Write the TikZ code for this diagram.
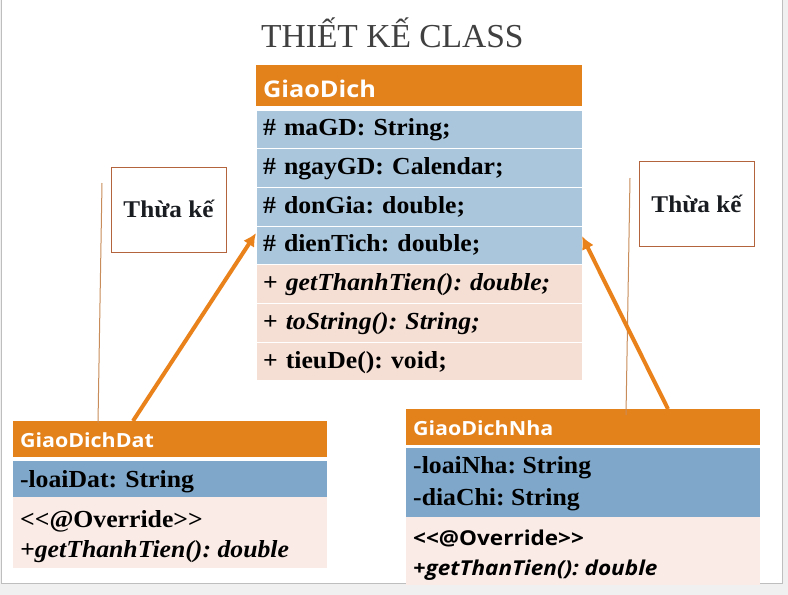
\documentclass[tikz,border=0pt]{standalone}
\usepackage{fontspec}
\setmainfont{Liberation Serif}
\newfontfamily\umlserif{Liberation Serif}[FakeStretch=1.05]
\newfontfamily\umlsans{Open Sans}[FakeStretch=1.1]
\usepackage{tikz}
\usetikzlibrary{arrows.meta,positioning}
\definecolor{umlorange}{RGB}{227,130,27}
\definecolor{arroworange}{RGB}{234,130,28}
\definecolor{mainblue}{RGB}{170,198,220}
\definecolor{mainpink}{RGB}{245,222,212}
\definecolor{clsblue}{RGB}{126,167,202}
\definecolor{clspink}{RGB}{250,235,230}
\definecolor{guidebrown}{RGB}{200,140,90}
\definecolor{noteline}{RGB}{180,100,60}
\definecolor{notetext}{RGB}{25,28,32}
\definecolor{titlegray}{RGB}{64,64,64}
\definecolor{slidegray}{RGB}{240,240,240}
\definecolor{slideline}{RGB}{190,190,190}
\frenchspacing

\begin{document}
\begin{tikzpicture}[x=1pt,y=-1pt,
  box/.style={rectangle,anchor=north west,outer sep=0pt,inner xsep=7pt,inner ysep=0pt,align=left},
  head/.style={box,fill=umlorange,text=white},
  mainhead/.style={head,text width=312pt,minimum height=41pt,text height=23pt,text depth=0pt,
    font=\umlsans\bfseries\fontsize{23}{26}\selectfont},
  classhead/.style={head,minimum height=36pt,text height=17pt,text depth=0.5pt,
    font=\umlsans\bfseries\fontsize{19.5}{22}\selectfont},
  row/.style={box,draw=white,line width=1pt,text width=312pt,minimum height=38.7pt,
    text height=17.5pt,text depth=4.5pt,font=\umlserif\bfseries\fontsize{24.5}{28}\selectfont},
  attr/.style={row,fill=mainblue},
  oper/.style={row,fill=mainpink},
  txt/.style={inner sep=0pt,anchor=base west,font=\umlserif\bfseries\fontsize{24.5}{28}\selectfont},
  sanstxt/.style={txt,font=\umlsans\bfseries\fontsize{20.5}{24}\selectfont},
  note/.style={draw=noteline,line width=0.8pt,minimum width=115pt,minimum height=85pt,
    text height=16pt,text depth=0pt,text=notetext,font=\umlserif\bfseries\fontsize{24}{28}\selectfont},
  guide/.style={draw=guidebrown,line width=1pt},
  inhArrow/.style={draw=arroworange,line width=4pt,-{Latex[length=13pt,width=13pt]}}]
\useasboundingbox (0,0) rectangle (788,595);
\fill[slidegray] (0,0) rectangle (788,595);
\draw[fill=white,draw=slideline] (1.5,-2) rectangle (782,583);

\node[anchor=base west,inner sep=0pt,text=titlegray,font=\fontsize{33.5}{36}\selectfont] (title) at (261,47) {THIẾT KẾ CLASS};

\node[mainhead] (giaoDich) at (256,65) {GiaoDich};
\node[attr,below=4pt of giaoDich] (maGD) {\# maGD: String;};
\node[attr,below=0pt of maGD] (ngayGD) {\# ngayGD: Calendar;};
\node[attr,below=0pt of ngayGD] (donGia) {\# donGia: double;};
\node[attr,below=0pt of donGia] (dienTich) {\# dienTich: double;};
\node[oper,below=0pt of dienTich] (getTien) {+ \textit{getThanhTien(): double;}};
\node[oper,below=0pt of getTien] (toStr) {+ \textit{toString(): String;}};
\node[oper,below=0pt of toStr] (tieuDe) {+ tieuDe(): void;};

\node[classhead,text width=300pt] (datHead) at (13,421) {GiaoDichDat};
\node[box,fill=clsblue,text width=300pt,minimum height=36pt,text height=17pt,text depth=0.5pt,
  font=\umlserif\bfseries\fontsize{24.5}{28}\selectfont,below=4pt of datHead] (loaiDat) {-loaiDat: String};
\node[box,fill=clspink,text width=300pt,minimum height=71pt,below=0pt of loaiDat] (datOps) {};
\node[txt] (datOverride) at ([xshift=7pt,yshift=-30pt]datOps.north west) {<{}<@Override>{}>};
\node[txt] (datGet) at ([yshift=-30pt]datOverride.base west) {\itshape +getThanhTien(): double};

\node[classhead,text width=340pt] (nhaHead) at (406,409) {GiaoDichNha};
\node[box,fill=clsblue,text width=340pt,minimum height=69pt,below=3pt of nhaHead] (nhaAttr) {};
\node[txt] (loaiNha) at ([xshift=7pt,yshift=-25pt]nhaAttr.north west) {-loaiNha: String};
\node[txt] (diaChi) at ([yshift=-32pt]loaiNha.base west) {-diaChi: String};
\node[box,fill=clspink,text width=340pt,minimum height=68pt,below=0pt of nhaAttr] (nhaOps) {};
\node[sanstxt] (nhaOverride) at ([xshift=7pt,yshift=-28pt]nhaOps.north west) {<{}<@Override>{}>};
\node[sanstxt] (nhaGet) at ([yshift=-30pt]nhaOverride.base west) {\itshape +getThanTien(): double};

\node[note] (noteDat) at (168.5,209.5) {Thừa kế};
\node[note] (noteNha) at (696.5,204) {Thừa kế};

\coordinate (datGuide) at (102,183);
\coordinate (nhaGuide) at (630,178);
\draw[guide] (datGuide) -- ([xshift=85pt,yshift=-2pt]datHead.north west);
\draw[guide] (nhaGuide) -- ([xshift=220pt,yshift=-6pt]nhaHead.north west);

\draw[inhArrow] ([xshift=120pt]datHead.north west) -- ([yshift=-7pt]dienTich.north west);
\draw[inhArrow] ([xshift=262pt]nhaHead.north west) -- ([yshift=-10pt]dienTich.north east);
\end{tikzpicture}
\end{document}
